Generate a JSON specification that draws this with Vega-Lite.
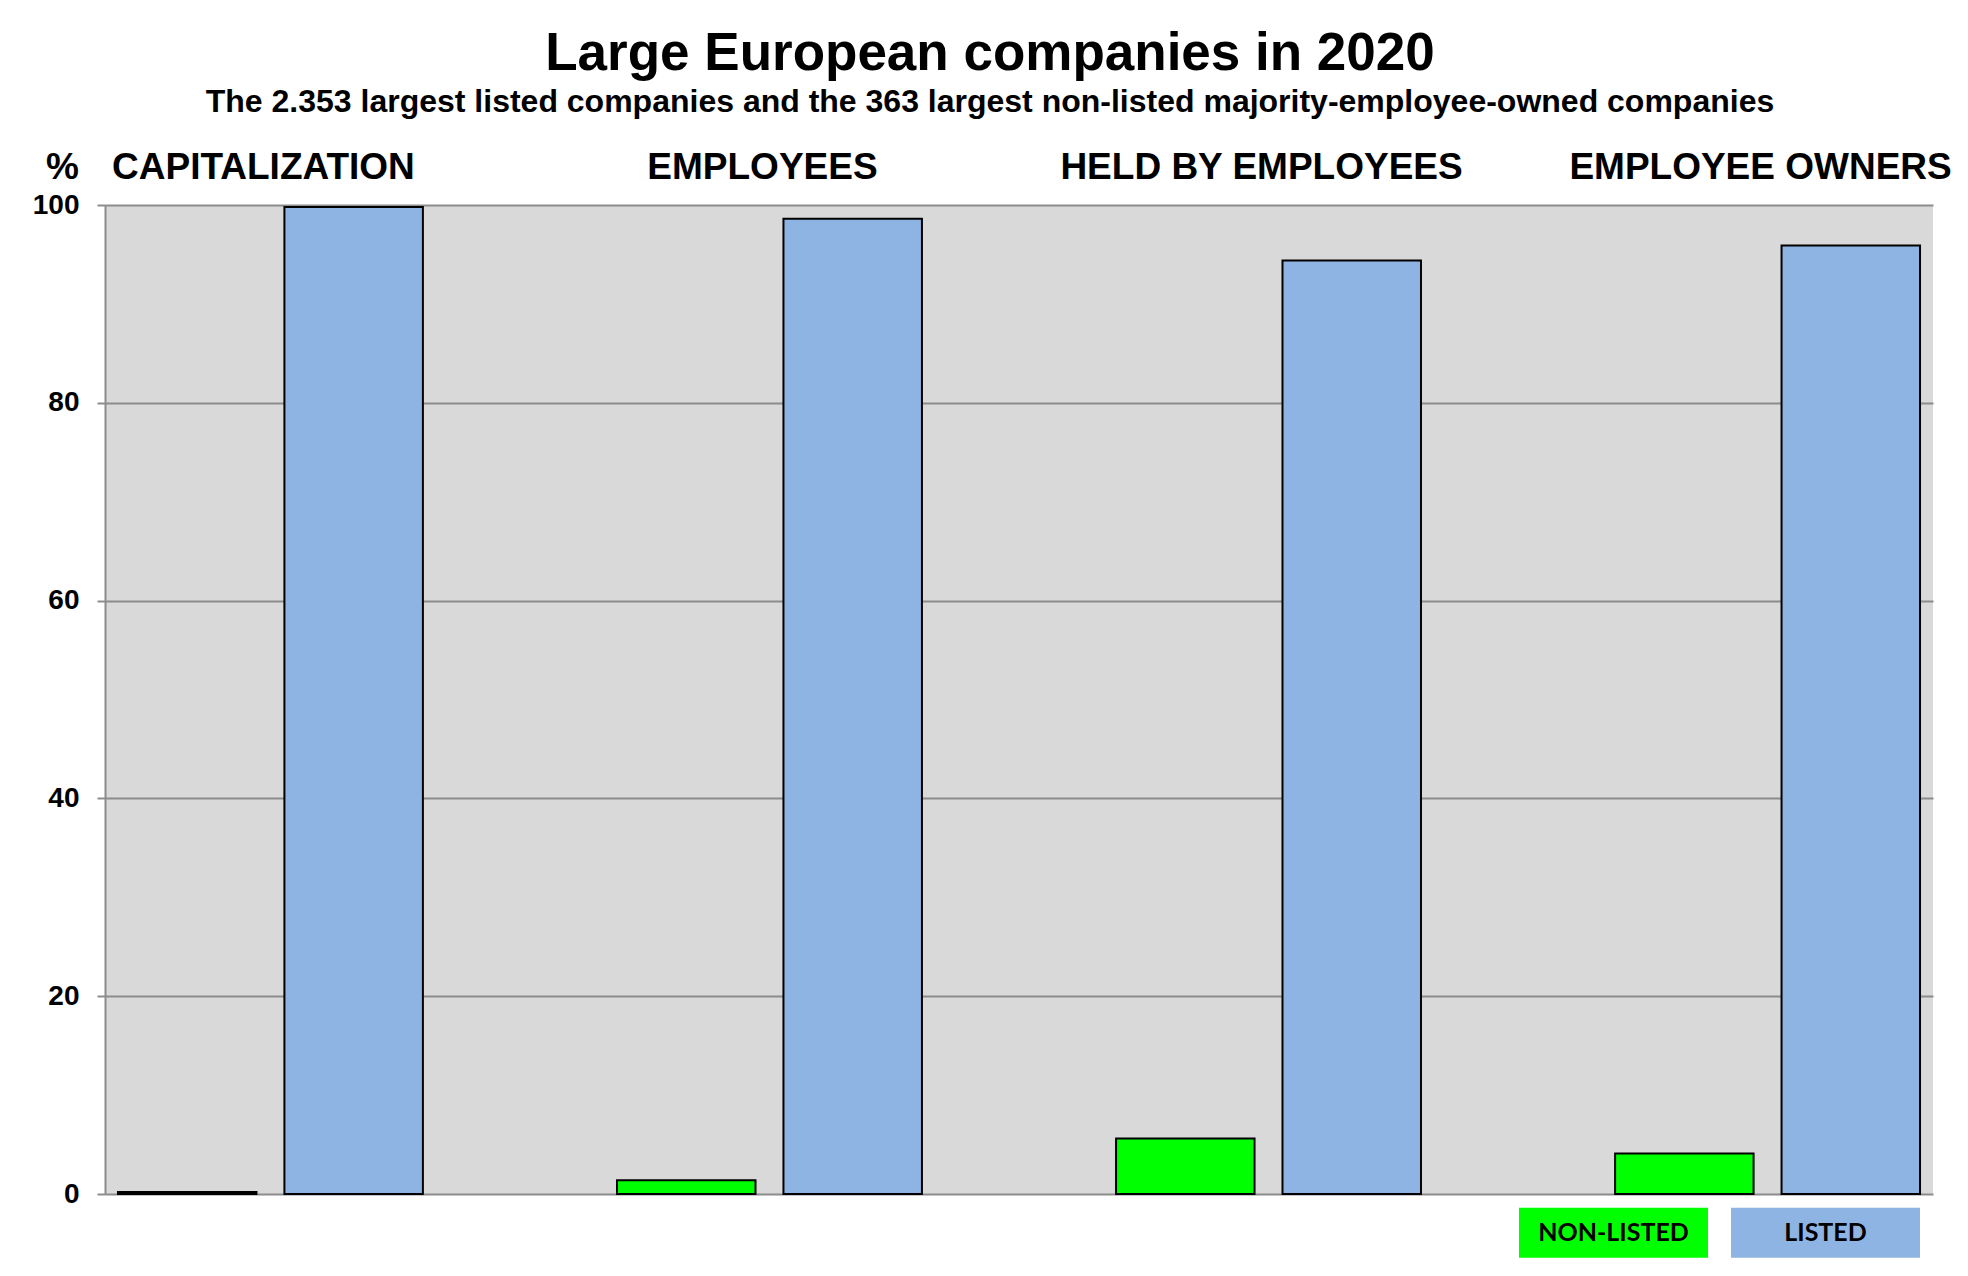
{
  "$schema": "https://vega.github.io/schema/vega-lite/v6.json",
  "autosize": "none",
  "width": 1828,
  "height": 989,
  "padding": {"left": 105, "top": 205, "right": 35, "bottom": 82},
  "background": "white",
  "title": {
    "text": "Large European companies in 2020",
    "subtitle": "The 2.353 largest listed companies and the 363 largest  non-listed majority-employee-owned companies",
    "anchor": "middle",
    "dx": -29,
    "font": "Liberation Sans",
    "fontSize": 53,
    "fontWeight": "bold",
    "color": "black",
    "subtitleFont": "Liberation Sans",
    "subtitleFontSize": 32,
    "subtitleFontWeight": "bold",
    "subtitleColor": "black",
    "subtitlePadding": 6,
    "offset": 30
  },
  "data": {
    "values": [
      {"measure": "CAPITALIZATION", "type": "NON-LISTED", "pct": 0.2},
      {"measure": "CAPITALIZATION", "type": "LISTED", "pct": 99.8},
      {"measure": "EMPLOYEES", "type": "NON-LISTED", "pct": 1.4},
      {"measure": "EMPLOYEES", "type": "LISTED", "pct": 98.6},
      {"measure": "HELD BY EMPLOYEES", "type": "NON-LISTED", "pct": 5.6},
      {"measure": "HELD BY EMPLOYEES", "type": "LISTED", "pct": 94.4},
      {"measure": "EMPLOYEE OWNERS", "type": "NON-LISTED", "pct": 4.1},
      {"measure": "EMPLOYEE OWNERS", "type": "LISTED", "pct": 95.9}
    ]
  },
  "mark": {"type": "bar", "stroke": "black", "strokeWidth": 2},
  "encoding": {
    "x": {
      "field": "measure",
      "type": "nominal",
      "sort": ["CAPITALIZATION", "EMPLOYEES", "HELD BY EMPLOYEES", "EMPLOYEE OWNERS"],
      "scale": {"paddingInner": 0.389, "paddingOuter": 0.026},
      "axis": {
        "orient": "top",
        "title": null,
        "ticks": false,
        "domain": false,
        "labelAngle": 0,
        "labelFont": "Liberation Sans",
        "labelFontSize": 37,
        "labelFontWeight": "bold",
        "labelColor": "black",
        "labelBaseline": "alphabetic",
        "labelPadding": 27,
        "labelOffset": -7,
        "labelLimit": 0,
        "labelOverlap": false
      }
    },
    "xOffset": {
      "field": "type",
      "type": "nominal",
      "scale": {"domain": ["NON-LISTED", "LISTED"], "paddingInner": 0.168, "paddingOuter": 0}
    },
    "y": {
      "field": "pct",
      "type": "quantitative",
      "scale": {"domain": [0, 100], "nice": false},
      "axis": {
        "values": [0, 20, 40, 60, 80, 100],
        "title": "%",
        "titleAngle": 0,
        "titleAlign": "center",
        "titleBaseline": "alphabetic",
        "titleX": -43,
        "titleY": -27,
        "titleFont": "Liberation Sans",
        "titleFontSize": 37,
        "titleFontWeight": "bold",
        "titleColor": "black",
        "labelFont": "Liberation Sans",
        "labelFontSize": 28,
        "labelFontWeight": "bold",
        "labelColor": "black",
        "labelPadding": 18,
        "tickSize": 8,
        "tickColor": "#8c8c8c",
        "tickWidth": 2,
        "domainColor": "#8c8c8c",
        "domainWidth": 2,
        "grid": true,
        "gridColor": "#8c8c8c",
        "gridWidth": 2
      }
    },
    "color": {
      "field": "type",
      "type": "nominal",
      "scale": {"domain": ["NON-LISTED", "LISTED"], "range": ["#00ff00", "#8eb4e3"]},
      "legend": {
        "orient": "none",
        "legendX": 1414,
        "legendY": 933,
        "direction": "horizontal",
        "title": null,
        "symbolType": "M-1,-0.2646H1V0.2646H-1Z",
        "symbolSize": 35721,
        "symbolStrokeWidth": 0,
        "symbolOpacity": 1,
        "labelOffset": -94.5,
        "labelAlign": "center",
        "labelFont": "Lato",
        "labelFontSize": 25,
        "labelFontWeight": "bold",
        "labelColor": "black",
        "labelLimit": 0,
        "columnPadding": 23,
        "padding": 0
      }
    }
  },
  "config": {
    "view": {"fill": "#d9d9d9", "stroke": null}
  }
}
